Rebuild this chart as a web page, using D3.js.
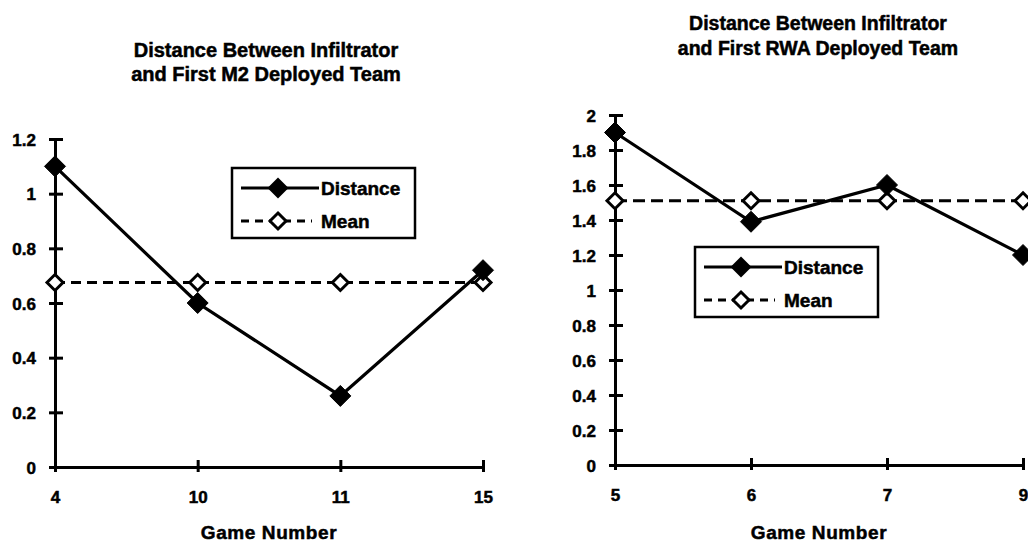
<!DOCTYPE html>
<html>
<head>
<meta charset="utf-8">
<script src="https://cdn.jsdelivr.net/npm/d3@7"></script>
<style>
  html, body { margin: 0; padding: 0; background: #fff; overflow: hidden; }
  svg { display: block; }
  text { font-family: "Liberation Sans", Arial, Helvetica, sans-serif; font-weight: bold; fill: #000; stroke: #000; stroke-width: 0.5px; }
</style>
</head>
<body>
<svg id="chart" width="1028" height="543"></svg>
<script>
// ---- data ----
const leftTitle = ["Distance Between Infiltrator", "and First M2 Deployed Team"];
const leftCategories = ["4", "10", "11", "15"];
const leftDistance = [1.1, 0.6, 0.26, 0.72];
const leftMean = [0.675, 0.675, 0.675, 0.675];
const leftYTicks = [0, 0.2, 0.4, 0.6, 0.8, 1, 1.2];

const rightTitle = ["Distance Between Infiltrator", "and First RWA Deployed Team"];
const rightCategories = ["5", "6", "7", "9"];
const rightDistance = [1.9, 1.39, 1.6, 1.2];
const rightMean = [1.51, 1.51, 1.51, 1.51];
const rightYTicks = [0, 0.2, 0.4, 0.6, 0.8, 1, 1.2, 1.4, 1.6, 1.8, 2];

const seriesNames = ["Distance", "Mean"];
const xAxisTitle = "Game Number";

const svg = d3.select("#chart");

function diamond(r) {
  return `M0,${-r}L${r},0L0,${r}L${-r},0Z`;
}

function drawChart(cfg) {
  const g = svg.append("g");
  const x = d3.scalePoint().domain(cfg.categories).range([cfg.x0, cfg.x1]).padding(0);
  const y = d3.scaleLinear().domain([0, cfg.yMax]).range([cfg.y0, cfg.y1]);

  // title
  g.append("text")
    .attr("x", cfg.titleX).attr("y", cfg.titleY)
    .attr("text-anchor", "middle")
    .style("font-size", cfg.titleSize + "px")
    .selectAll("tspan").data(cfg.title).join("tspan")
    .attr("x", cfg.titleX)
    .attr("dy", (d, i) => i === 0 ? 0 : cfg.titleGap)
    .text(d => d);

  // y axis
  const yAxis = d3.axisLeft(y).tickValues(cfg.yTicks).tickSize(0).tickPadding(19)
    .tickFormat(d3.format("~g"));
  const ya = g.append("g").attr("transform", `translate(${cfg.x0},0)`).call(yAxis);
  ya.select(".domain").attr("stroke", "#000").attr("stroke-width", 3);
  ya.selectAll(".tick text").style("font-size", "17px").attr("dy", "0.36em").attr("fill", "#000");
  ya.selectAll(".tick").append("line")
    .attr("x1", -6).attr("x2", 8).attr("stroke", "#000").attr("stroke-width", 3);

  // x axis
  const xAxis = d3.axisBottom(x).tickSize(0).tickPadding(24);
  const xa = g.append("g").attr("transform", `translate(0,${cfg.y0})`).call(xAxis);
  xa.select(".domain").attr("stroke", "#000").attr("stroke-width", 3);
  xa.selectAll(".tick text").style("font-size", "17px").attr("fill", "#000");
  xa.selectAll(".tick").append("line")
    .attr("y1", -7).attr("y2", 5).attr("stroke", "#000").attr("stroke-width", 3);

  // x axis title
  g.append("text")
    .attr("x", (cfg.x0 + cfg.x1) / 2).attr("y", 539)
    .attr("text-anchor", "middle")
    .style("font-size", "19px").style("letter-spacing", "0.6px")
    .text(xAxisTitle);

  // mean line (dashed) with open diamonds
  const line = d3.line().x((d, i) => x(cfg.categories[i])).y(d => y(d));
  g.append("path").datum(cfg.mean)
    .attr("d", line).attr("fill", "none").attr("stroke", "#000")
    .attr("stroke-width", 3).attr("stroke-dasharray", cfg.dash);

  // distance line (solid)
  g.append("path").datum(cfg.distance)
    .attr("d", line).attr("fill", "none").attr("stroke", "#000")
    .attr("stroke-width", 3.2);

  g.selectAll(".meanpt").data(cfg.mean).join("path")
    .attr("transform", (d, i) => `translate(${x(cfg.categories[i])},${y(d)})`)
    .attr("d", diamond(8)).attr("fill", "#fff").attr("stroke", "#000").attr("stroke-width", 3);

  g.selectAll(".distpt").data(cfg.distance).join("path")
    .attr("transform", (d, i) => `translate(${x(cfg.categories[i])},${y(d)})`)
    .attr("d", diamond(10.5)).attr("fill", "#000").attr("stroke", "#000").attr("stroke-width", 1);

  // legend
  const lg = g.append("g").attr("transform", `translate(${cfg.legX},${cfg.legY})`);
  lg.append("rect").attr("width", 183).attr("height", 70)
    .attr("fill", "#fff").attr("stroke", "#000").attr("stroke-width", 2.5);
  const rows = [20, 53];
  lg.append("line").attr("x1", 9).attr("x2", 87).attr("y1", rows[0]).attr("y2", rows[0])
    .attr("stroke", "#000").attr("stroke-width", 3.2);
  lg.append("path").attr("transform", `translate(46,${rows[0]})`).attr("d", diamond(10.5)).attr("fill", "#000");
  lg.append("line").attr("x1", 9).attr("x2", 80).attr("y1", rows[1]).attr("y2", rows[1])
    .attr("stroke", "#000").attr("stroke-width", 3).attr("stroke-dasharray", "8,6");
  lg.append("path").attr("transform", `translate(46,${rows[1]})`).attr("d", diamond(8))
    .attr("fill", "#fff").attr("stroke", "#000").attr("stroke-width", 3);
  lg.selectAll(".lt").data(seriesNames).join("text")
    .attr("x", 89).attr("y", (d, i) => rows[i]).attr("dy", "0.36em")
    .style("font-size", "19px").text(d => d);
}

drawChart({
  title: leftTitle, titleX: 266, titleY: 57, titleGap: 24, titleSize: 20,
  categories: leftCategories, distance: leftDistance, mean: leftMean,
  yTicks: leftYTicks, yMax: 1.2,
  x0: 55, x1: 483, y0: 467, y1: 139,
  legX: 232, legY: 168, dash: "10,6"
});

drawChart({
  title: rightTitle, titleX: 818, titleY: 30, titleGap: 25, titleSize: 19.5,
  categories: rightCategories, distance: rightDistance, mean: rightMean,
  yTicks: rightYTicks, yMax: 2,
  x0: 615, x1: 1023, y0: 465, y1: 115,
  legX: 695, legY: 247, dash: "12,6"
});
</script>
</body>
</html>
